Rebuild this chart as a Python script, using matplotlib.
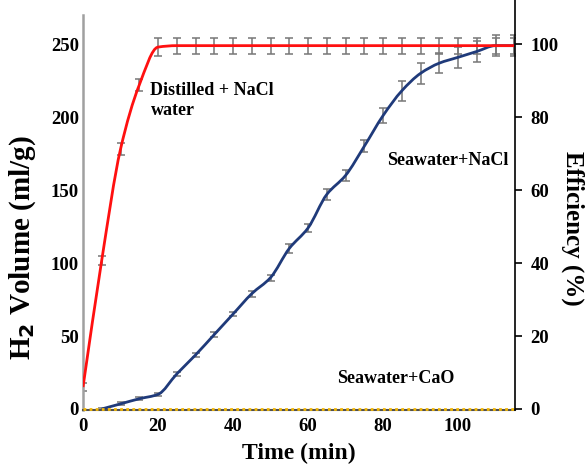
import matplotlib
matplotlib.use("Agg")
import matplotlib.pyplot as plt
import numpy as np
from matplotlib.path import Path
from matplotlib.patches import PathPatch

# ---- data ----
t_dist = [0, 5, 10, 15, 20, 25, 30, 35, 40, 45, 50, 55, 60, 65, 70, 75, 80, 85, 90, 95, 100, 105, 110, 115]
v_dist = [15, 102, 178, 222, 248, 249, 249, 249, 249, 249, 249, 249, 249, 249, 249, 249, 249, 249, 249, 249, 249, 249, 249, 249]
e_dist = [3, 3, 4, 4, 6, 5.5, 5.5, 5.5, 5.5, 5.5, 5.5, 5.5, 5.5, 5.5, 5.5, 5.5, 5.5, 5.5, 5.5, 5.5, 5.5, 5.5, 5.5, 5.5]

t_sea = [5, 10, 15, 20, 25, 30, 35, 40, 45, 50, 55, 60, 65, 70, 75, 80, 85, 90, 95, 100, 105, 110, 115]
v_sea = [0, 3.5, 7, 10, 24, 37, 51, 65, 79, 90, 110, 124, 147, 160, 180, 201, 218, 230, 237, 241, 245, 249, 249]
e_sea = [0.5, 1, 1, 1, 1.5, 1.5, 1.5, 1.5, 2, 2, 3, 3, 4, 4, 4, 5, 7, 7, 7, 7, 7, 7, 7]

t_cao = [0, 5, 10, 15, 20, 25, 30, 35, 40, 45, 50, 55, 60, 65, 70, 75, 80, 85, 90, 95, 100, 105, 110, 115]
v_cao = [0] * len(t_cao)

x_ticks = [0, 20, 40, 60, 80, 100]
y_ticks = [0, 50, 100, 150, 200, 250]
eff_ticks = [0, 20, 40, 60, 80, 100]

serif = ["Liberation Serif", "DejaVu Serif"]
plt.rcParams["font.family"] = serif
plt.rcParams["font.weight"] = "bold"


def smooth_path(x, y):
    """Monotone cubic (Fritsch-Carlson) drawn as Bezier segments through the points."""
    x = np.asarray(x, float)
    y = np.asarray(y, float)
    n = len(x)
    h = np.diff(x)
    d = np.diff(y) / h
    m = np.zeros(n)
    m[0] = d[0]
    m[-1] = d[-1]
    for i in range(1, n - 1):
        if d[i - 1] * d[i] <= 0:
            m[i] = 0.0
        else:
            w1 = 2 * h[i] + h[i - 1]
            w2 = h[i] + 2 * h[i - 1]
            m[i] = (w1 + w2) / (w1 / d[i - 1] + w2 / d[i])
    verts = [(x[0], y[0])]
    codes = [Path.MOVETO]
    for i in range(n - 1):
        c1 = (x[i] + h[i] / 3, y[i] + m[i] * h[i] / 3)
        c2 = (x[i + 1] - h[i] / 3, y[i + 1] - m[i + 1] * h[i] / 3)
        verts += [c1, c2, (x[i + 1], y[i + 1])]
        codes += [Path.CURVE4] * 3
    return Path(verts, codes)


fig = plt.figure(figsize=(5.88, 4.68), dpi=100)
ax = fig.add_axes([83 / 588, 1 - 410 / 468, (515 - 83) / 588, (410 - 15) / 468])

# error bars
ax.errorbar(t_dist, v_dist, yerr=e_dist, fmt="none", ecolor="#777777",
            elinewidth=1.1, capsize=3, capthick=1.1, zorder=2)
ax.errorbar(t_sea, v_sea, yerr=e_sea, fmt="none", ecolor="#777777",
            elinewidth=1.1, capsize=3, capthick=1.1, zorder=2)

# smooth lines
ax.add_patch(PathPatch(smooth_path(t_sea, v_sea), fill=False, edgecolor="#1f3a7a", lw=2.0, zorder=3))
ax.add_patch(PathPatch(smooth_path(t_dist, v_dist), fill=False, edgecolor="#ff1010", lw=2.0, zorder=4))
ax.plot(t_cao, v_cao, color="#f2b705", lw=2.0, ls=(0, (1, 1.2)), zorder=5, clip_on=False)

ax.set_xlim(0, 115.2)
ax.set_ylim(-0.7, 270)
ax.set_xticks(x_ticks)
ax.set_yticks(y_ticks)
ax.tick_params(axis="x", length=0, labelsize=13.5, pad=6)
ax.tick_params(axis="y", length=0, labelsize=13.5, pad=3)
for lab in ax.get_xticklabels() + ax.get_yticklabels():
    lab.set_fontweight("bold")

ax.spines["top"].set_visible(False)
ax.spines["right"].set_visible(False)
ax.spines["left"].set_color("#a0a0a0")
ax.spines["left"].set_linewidth(1.8)
ax.spines["bottom"].set_color("#505050")
ax.spines["bottom"].set_linewidth(1.5)

ax.set_xlabel("Time (min)", fontsize=17, fontweight="bold")
ax.xaxis.set_label_coords(0.5, -0.083)
ax.set_ylabel("H$_2$ Volume (ml/g)", fontsize=21, fontweight="bold")
ax.yaxis.set_label_coords(-0.105, 0.41)

ax2 = ax.twinx()
ax2.set_ylim(-0.7 / 2.5, 270 / 2.5)
ax2.set_yticks(eff_ticks)
for s in ["top", "left", "bottom"]:
    ax2.spines[s].set_visible(False)
ax2.spines["right"].set_color("black")
ax2.spines["right"].set_linewidth(1.2)
ax2.spines["right"].set_bounds(-0.28, 112.5)
ax2.tick_params(axis="y", length=5, width=1.2, direction="out", labelsize=13.5, pad=6)
for lab in ax2.get_yticklabels():
    lab.set_fontweight("bold")
ax2.set_ylabel("Efficiency (%)", fontsize=18, fontweight="bold", rotation=270)
ax2.yaxis.set_label_coords(1.16, 0.46)

# annotations
ax.text(18, 224, "Distilled + NaCl\nwater", fontsize=13, fontweight="bold",
        ha="left", va="top", linespacing=1.2)
ax.text(113.5, 170, "Seawater+NaCl", fontsize=13, fontweight="bold", ha="right", va="center")
ax.text(83.5, 21, "Seawater+CaO", fontsize=13, fontweight="bold", ha="center", va="center")

fig.savefig("out.png", dpi=100)
